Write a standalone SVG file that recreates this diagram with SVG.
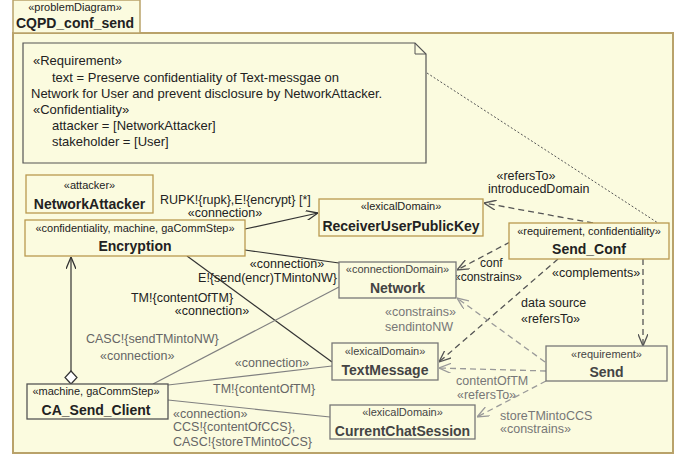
<svg xmlns="http://www.w3.org/2000/svg" width="683" height="457" viewBox="0 0 683 457">
<style>
text{font-family:"Liberation Sans",Arial,sans-serif;fill:#222}
.st{font-size:11px;text-anchor:middle}
.nm{font-size:14px;font-weight:bold;text-anchor:middle}
.lb{font-size:12.5px}
.sm{font-size:12px}
.g{fill:#666}
.lg{fill:#777}
.c{text-anchor:middle}
.e{text-anchor:end}
.nt{font-size:13px}
.tan{fill:#fbfbdf;stroke:#b9994f;stroke-width:1.3}
.gr{fill:#fbfbdf;stroke:#777;stroke-width:1.3}
.gn{fill:#444}
.sd{fill:none;stroke:#333;stroke-width:1.2}
.sg{fill:none;stroke:#808080;stroke-width:1.2}
.dd{fill:none;stroke:#555;stroke-width:1.3;stroke-dasharray:6,4}
.dg{fill:none;stroke:#999;stroke-width:1.3;stroke-dasharray:6,4}
</style>
<defs>
<marker id="ad" viewBox="0 0 12 10" refX="12" refY="5" markerWidth="12" markerHeight="10" markerUnits="userSpaceOnUse" orient="auto"><path d="M0,0 L12,5 L0,10" fill="none" stroke="#333" stroke-width="1.3"/></marker>
<marker id="am" viewBox="0 0 12 10" refX="12" refY="5" markerWidth="12" markerHeight="10" markerUnits="userSpaceOnUse" orient="auto"><path d="M0,0 L12,5 L0,10" fill="none" stroke="#555" stroke-width="1.3"/></marker>
<marker id="al" viewBox="0 0 12 10" refX="12" refY="5" markerWidth="12" markerHeight="10" markerUnits="userSpaceOnUse" orient="auto"><path d="M0,0 L12,5 L0,10" fill="none" stroke="#999" stroke-width="1.3"/></marker>
</defs>
<rect x="0" y="0" width="683" height="457" fill="#fff"/>
<g id="frame">
<rect x="13" y="33" width="660" height="420" fill="#fbfbdf" stroke="#b9a26a" stroke-width="2"/>
<rect x="13" y="0" width="127" height="33" fill="#fbfbdf" stroke="#b9a26a" stroke-width="1.5"/>
<text x="75" y="11" class="st">«problemDiagram»</text>
<text x="75" y="28" class="nm">CQPD_conf_send</text>
</g>
<g id="note">
<path d="M23,43 L415,43 L426,54 L426,163 L23,163 Z" fill="#fbfbdf" stroke="#555" stroke-width="1.2"/>
<path d="M415,43 L415,54 L426,54" fill="none" stroke="#555" stroke-width="1"/>
<text x="33" y="65" class="nt">«Requirement»</text>
<text x="52" y="82" class="nt">text = Preserve confidentiality of Text-messgae on</text>
<text x="31" y="98" class="nt">Network for User and prevent disclosure by NetworkAttacker.</text>
<text x="33" y="114" class="nt">«Confidentiality»</text>
<text x="52" y="130" class="nt">attacker = [NetworkAttacker]</text>
<text x="52" y="146" class="nt">stakeholder = [User]</text>
</g>
<g id="connectors">
<path d="M427,73 L658,223" fill="none" stroke="#555" stroke-width="1" stroke-dasharray="2,2"/>
<path d="M245,229 L318,213" class="sd" marker-end="url(#ad)"/>
<path d="M245,250 L339,263" class="sd"/>
<path d="M187,256 L332,362" class="sd"/>
<path d="M153,384 L339,287" class="sg"/>
<path d="M168,385 L332,366" class="sg"/>
<path d="M168,400 L330,417" class="sg"/>
<path d="M71,371 L71,257" class="sd" marker-end="url(#ad)"/>
<polygon points="71,371 77,377.5 71,384 65,377.5" fill="#fff" stroke="#333" stroke-width="1.2"/>
<path d="M593,223 L484,203" class="dd" marker-end="url(#am)"/>
<path d="M510,242 L457,270" class="dd" marker-end="url(#am)"/>
<path d="M558,259 L439,362" class="dd" marker-end="url(#am)"/>
<path d="M643,259 L643,346" class="dd" marker-end="url(#am)"/>
<path d="M545,362 L457,298" class="dg" marker-end="url(#al)"/>
<path d="M546,371 L439,368" class="dg" marker-end="url(#al)"/>
<path d="M546,381 L477,417" class="dg" marker-end="url(#al)"/>
<text x="160" y="204" class="lb">RUPK!{rupk},E!{encrypt} [*]</text>
<text x="225" y="217" class="lb c">«connection»</text>
<text x="287" y="268" class="lb c">«connection»</text>
<text x="337" y="282" class="lb e">E!{send(encr)TMintoNW}</text>
<text x="182" y="302" class="lb c">TM!{contentOfTM}</text>
<text x="212" y="315" class="lb c">«connection»</text>
<text x="86" y="343" class="lb g">CASC!{sendTMintoNW}</text>
<text x="100" y="360" class="lb g">«connection»</text>
<text x="272" y="367" class="lb g c">«connection»</text>
<text x="213" y="393" class="lb g">TM!{contentOfTM}</text>
<text x="173" y="418" class="lb g">«connection»</text>
<text x="173" y="431" class="lb g">CCS!{contentOfCCS},</text>
<text x="173" y="446" class="lb g">CASC!{storeTMintoCCS}</text>
<text x="526" y="180" class="lb c">«refersTo»</text>
<text x="488" y="193" class="lb">introducedDomain</text>
<text x="480" y="267" class="sm">conf</text>
<text x="454" y="281" class="sm">«constrains»</text>
<text x="552" y="277" class="lb">«complements»</text>
<text x="521" y="307" class="lb">data source</text>
<text x="521" y="323" class="lb">«refersTo»</text>
<text x="385" y="316" class="lb lg">«constrains»</text>
<text x="385" y="331" class="lb lg">sendintoNW</text>
<text x="456" y="385" class="lb lg">contentOfTM</text>
<text x="457" y="399" class="lb lg">«refersTo»</text>
<text x="500" y="420" class="lb lg">storeTMintoCCS</text>
<text x="500" y="433" class="lb lg">«constrains»</text>
</g>
<g id="NetworkAttacker">
<rect x="26" y="175" width="127" height="38" class="tan"/>
<text x="89.5" y="189" class="st">«attacker»</text>
<text x="89.5" y="209" class="nm">NetworkAttacker</text>
</g>
<g id="Encryption">
<rect x="25" y="220" width="220" height="36" class="tan"/>
<text x="135" y="232" class="st">«confidentiality, machine, gaCommStep»</text>
<text x="135" y="251" class="nm">Encryption</text>
</g>
<g id="ReceiverUserPublicKey">
<rect x="319" y="199" width="164" height="37" class="tan"/>
<text x="401" y="210" class="st">«lexicalDomain»</text>
<text x="401" y="231" class="nm">ReceiverUserPublicKey</text>
</g>
<g id="Send_Conf">
<rect x="509" y="223" width="160" height="36" class="tan"/>
<text x="589" y="235" class="st">«requirement, confidentiality»</text>
<text x="589" y="254" class="nm">Send_Conf</text>
</g>
<g id="Network">
<rect x="339" y="262" width="117" height="36" class="gr"/>
<text x="397.5" y="273" class="st gn">«connectionDomain»</text>
<text x="397.5" y="293" class="nm gn">Network</text>
</g>
<g id="TextMessage">
<rect x="332" y="343" width="106" height="37" class="gr"/>
<text x="385" y="355" class="st gn">«lexicalDomain»</text>
<text x="385" y="375" class="nm gn">TextMessage</text>
</g>
<g id="Send">
<rect x="546" y="346" width="121" height="35" class="gr"/>
<text x="606.5" y="358" class="st gn">«requirement»</text>
<text x="606.5" y="377" class="nm gn">Send</text>
</g>
<g id="CurrentChatSession">
<rect x="330" y="405" width="145" height="34" class="gr"/>
<text x="402.5" y="416" class="st gn">«lexicalDomain»</text>
<text x="402.5" y="436" class="nm gn">CurrentChatSession</text>
</g>
<g id="CA_Send_Client">
<rect x="27" y="384" width="141" height="35" fill="#fbfbdf" stroke="#555" stroke-width="1.3"/>
<text x="96" y="395" class="st">«machine, gaCommStep»</text>
<text x="96" y="415" class="nm">CA_Send_Client</text>
</g>
</svg>
